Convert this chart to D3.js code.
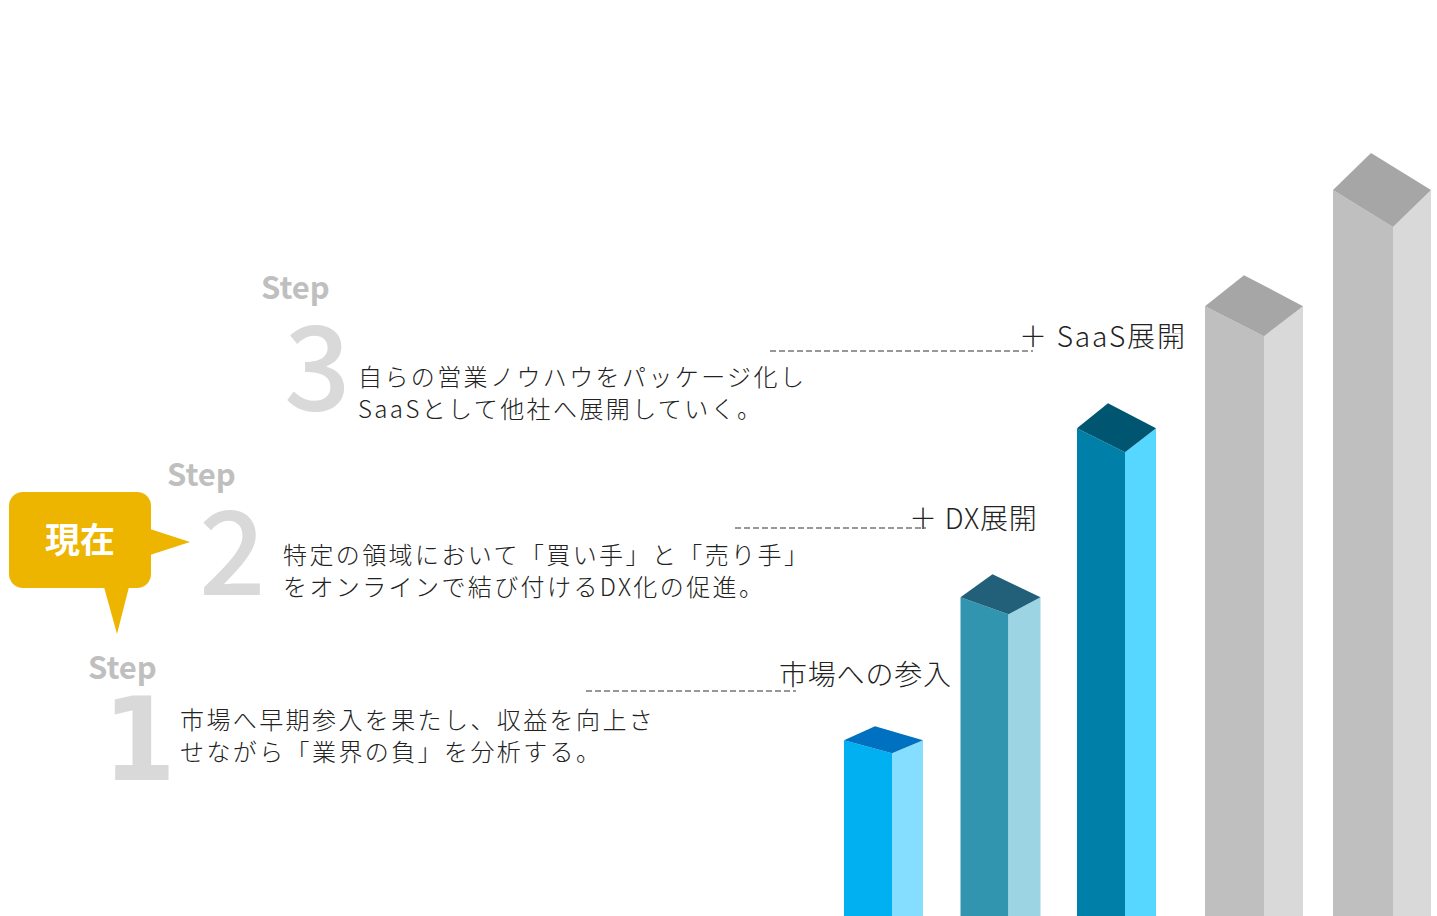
<!DOCTYPE html>
<html>
<head>
<meta charset="utf-8">
<script src="https://cdn.jsdelivr.net/npm/d3@7"></script>
<style>
  html, body { margin: 0; padding: 0; background: #fff; }
  svg { display: block; }
</style>
</head>
<body>
<div id="chart"></div>
<script>
// data
const stages = ["step1", "step2", "step3", "next1", "next2"];
const growth = [24.2, 43.9, 67.2, 84.0, 100];
const step_numbers = ["1", "2", "3"];
const step_lines = [
    ["市場へ早期参入を果たし、収益を向上さ", "せながら「業界の負」を分析する。"],
    ["特定の領域において「買い手」と「売り手」", "をオンラインで結び付けるDX化の促進。"],
    ["自らの営業ノウハウをパッケージ化し", "SaaSとして他社へ展開していく。"]
];
const milestones = ["市場への参入", "＋ DX展開", "＋ SaaS展開"];
const now_label = "現在";

// cons
const w = 1437;
const h = 916;
const jp_font = "'Noto Sans CJK JP', 'Noto Sans', sans-serif";

// bar look: front width, side width, back rise, front drop, colours
const bar_style = [
    { front: 48, side: 31, rise: 14, drop: 13, c_front: "#00b0f0", c_side: "#85ddff", c_top: "#0070c0" },
    { front: 48, side: 32, rise: 23, drop: 17, c_front: "#3195b0", c_side: "#9dd4e4", c_top: "#22607a" },
    { front: 48, side: 31, rise: 25, drop: 24, c_front: "#0080a8", c_side: "#55d7ff", c_top: "#005571" },
    { front: 59, side: 39, rise: 31, drop: 30, c_front: "#bfbfbf", c_side: "#d9d9d9", c_top: "#a6a6a6" },
    { front: 60, side: 38, rise: 37, drop: 37, c_front: "#bfbfbf", c_side: "#d9d9d9", c_top: "#a6a6a6" }
];

// text blocks (the "1" glyph has a foot, so it gets its own font)
const step_layout = [
    { step_x: 88, step_y: 679, num_x: 103, num_y: 780, num_font: "'DejaVu Sans Condensed', 'DejaVu Sans', sans-serif", num_weight: 700, num_size: 116, text_x: 180, text_y: 729 },
    { step_x: 167, step_y: 486, num_x: 199, num_y: 595, num_font: jp_font, num_weight: 500, num_size: 117, text_x: 283, text_y: 564 },
    { step_x: 261, step_y: 299, num_x: 284, num_y: 410, num_font: jp_font, num_weight: 500, num_size: 117, text_x: 358, text_y: 386 }
];
const milestone_layout = [
    { x1: 586, x2: 796, y: 691, tx: 779, ty: 685, ls: 0.8 },
    { x1: 735, x2: 926, y: 528, tx: 909, ty: 529, ls: 0.8 },
    { x1: 770, x2: 1033, y: 351, tx: 1019, ty: 347, ls: 1.8 }
];

// scales
const x = d3.scaleLinear().domain([0, 2, 4]).range([844, 1077, 1333]);
const y = d3.scaleLinear().domain([0, 100]).range([h, 190]);

const svg = d3.select("#chart")
    .append("svg")
    .attr("width", w)
    .attr("height", h);

// bars
const bars = svg.append("g")
    .selectAll("g")
    .data(stages)
    .join("g");

bars.each(function (d, i) {
    const g = d3.select(this);
    const s = bar_style[i];
    const x0 = x(i);
    const y0 = y(growth[i]);
    const xf = x0 + s.front;
    const xr = xf + s.side;

    // front face
    g.append("path")
        .attr("d", `M${x0},${y0} L${xf},${y0 + s.drop} L${xf},${h} L${x0},${h} Z`)
        .attr("fill", s.c_front);
    // side face
    g.append("path")
        .attr("d", `M${xf},${y0 + s.drop} L${xr},${y0} L${xr},${h} L${xf},${h} Z`)
        .attr("fill", s.c_side);
    // top
    g.append("path")
        .attr("d", `M${x0},${y0} L${x0 + s.side},${y0 - s.rise} L${xr},${y0} L${xf},${y0 + s.drop} Z`)
        .attr("fill", s.c_top);
});

// steps
step_numbers.forEach((n, i) => {
    const L = step_layout[i];
    svg.append("text")
        .attr("x", L.step_x)
        .attr("y", L.step_y)
        .attr("font-family", jp_font)
        .attr("font-weight", 700)
        .attr("font-size", 31)
        .attr("fill", "#bfbfbf")
        .text("Step");

    svg.append("text")
        .attr("x", L.num_x)
        .attr("y", L.num_y)
        .attr("font-family", L.num_font)
        .attr("font-weight", L.num_weight)
        .attr("font-size", L.num_size)
        .attr("fill", "#d9d9d9")
        .text(n);

    const t = svg.append("text")
        .attr("x", L.text_x)
        .attr("y", L.text_y)
        .attr("font-family", jp_font)
        .attr("font-weight", 300)
        .attr("font-size", 24)
        .attr("letter-spacing", 2.4)
        .attr("fill", "#222");
    step_lines[i].forEach((line, k) => {
        t.append("tspan")
            .attr("x", L.text_x)
            .attr("dy", k === 0 ? 0 : 32)
            .text(line);
    });
});

// milestones with dashed leaders
milestones.forEach((m, i) => {
    const L = milestone_layout[i];
    svg.append("line")
        .attr("x1", L.x1).attr("x2", L.x2)
        .attr("y1", L.y).attr("y2", L.y)
        .attr("stroke", "#333")
        .attr("stroke-width", 1.2)
        .attr("stroke-dasharray", "6,3");
    svg.append("text")
        .attr("x", L.tx)
        .attr("y", L.ty)
        .attr("font-family", jp_font)
        .attr("font-weight", 300)
        .attr("font-size", 28)
        .attr("letter-spacing", L.ls)
        .attr("fill", "#222")
        .attr("xml:space", "preserve")
        .text(m);
});

// "now" callout
const callout = svg.append("g");
callout.append("rect")
    .attr("x", 9).attr("y", 492)
    .attr("width", 142).attr("height", 96)
    .attr("rx", 14)
    .attr("fill", "#edb500");
callout.append("path")
    .attr("d", "M150,529 L190,542 L150,555 Z")
    .attr("fill", "#edb500");
callout.append("path")
    .attr("d", "M104,587 L129,587 L117,634 Z")
    .attr("fill", "#edb500");
callout.append("text")
    .attr("x", 80)
    .attr("y", 553)
    .attr("text-anchor", "middle")
    .attr("font-family", jp_font)
    .attr("font-weight", 700)
    .attr("font-size", 35)
    .attr("fill", "#fff")
    .text(now_label);
</script>
</body>
</html>
